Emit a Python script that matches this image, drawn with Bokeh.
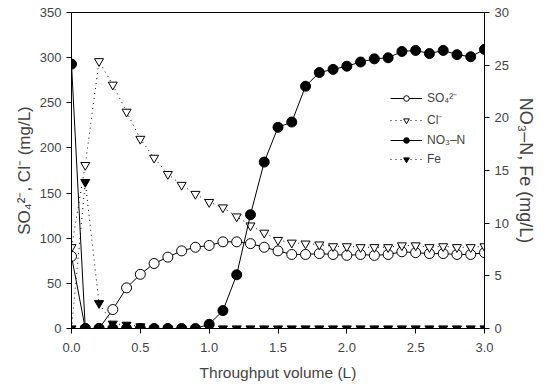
from bokeh.plotting import figure
from bokeh.models import Range1d, LinearAxis, Legend, LegendItem, FixedTicker, NumeralTickFormatter
from bokeh.embed import file_html
from bokeh.resources import INLINE

volume = [0.0, 0.1, 0.2, 0.3, 0.4, 0.5, 0.6, 0.7, 0.8, 0.9, 1.0, 1.1, 1.2, 1.3, 1.4, 1.5,
          1.6, 1.7, 1.8, 1.9, 2.0, 2.1, 2.2, 2.3, 2.4, 2.5, 2.6, 2.7, 2.8, 2.9, 3.0]
so4 = [80, 0, 0, 21, 45, 60, 72, 79, 86, 90, 92, 96, 96, 94, 90, 86,
       82, 82, 83, 82, 81, 82, 81, 82, 85, 84, 83, 83, 82, 82, 84]
cl = [90, 181, 296, 270, 240, 210, 189, 171, 159, 149, 140, 134, 124, 114, 106, 98,
      95, 94, 93, 91, 91, 90, 90, 90, 92, 92, 90, 91, 90, 90, 91]
no3n = [25.1, 0, 0, 0, 0, 0, 0, 0, 0, 0, 0.4, 1.7, 5.1, 10.8, 15.8, 19.1,
        19.6, 23.0, 24.3, 24.6, 24.9, 25.3, 25.6, 25.7, 26.3, 26.4, 26.1, 26.4, 26.0, 25.8, 26.5]
fe = [0, 13.9, 2.4, 0.45, 0.35, 0.2, 0, 0, 0, 0, 0, 0, 0, 0, 0, 0,
      0, 0, 0, 0, 0, 0, 0, 0, 0, 0, 0, 0, 0, 0, 0]

x_ticks = [0.0, 0.5, 1.0, 1.5, 2.0, 2.5, 3.0]
left_ticks = [0, 50, 100, 150, 200, 250, 300, 350]
right_ticks = [0, 5, 10, 15, 20, 25, 30]

FONT = "Liberation Sans"

p = figure(frame_width=413, frame_height=316, output_backend="svg", toolbar_location=None,
           x_range=Range1d(0, 3.0), y_range=Range1d(0, 350),
           min_border_left=71, min_border_right=46, min_border_top=12, min_border_bottom=40)
p.extra_y_ranges = {"right": Range1d(0, 30)}
p.grid.visible = False
p.outline_line_color = "black"
p.outline_line_width = 1
p.background_fill_color = "white"
p.border_fill_color = "white"

# series
r1 = p.line(volume, so4, line_color="black", line_width=1)
r2 = p.scatter(volume, so4, marker="circle", size=10, fill_color="white", line_color="black")
r3 = p.line(volume, cl, line_color="black", line_width=1, line_dash="1 4")
r4 = p.scatter(volume, cl, marker="inverted_triangle", size=9, fill_color="white", line_color="black")
r5 = p.line(volume, no3n, line_color="black", line_width=1, y_range_name="right")
r6 = p.scatter(volume, no3n, marker="circle", size=10, fill_color="black", line_color="black", y_range_name="right")
r7 = p.line(volume, fe, line_color="black", line_width=1, line_dash="1 4", y_range_name="right")
r8 = p.scatter(volume, fe, marker="inverted_triangle", size=9, fill_color="black", line_color="black", y_range_name="right")

right_axis = LinearAxis(y_range_name="right")
p.add_layout(right_axis, "right")

def style(ax, ticks, label, size):
    ax.ticker = FixedTicker(ticks=ticks)
    ax.axis_label = label
    ax.axis_label_text_font = FONT
    ax.axis_label_text_font_style = "normal"
    ax.axis_label_text_font_size = size
    ax.major_label_text_font = FONT
    ax.major_label_text_font_size = "13px"
    ax.major_tick_in = 0
    ax.major_tick_out = 5
    ax.minor_tick_in = 0
    ax.minor_tick_out = 0
    ax.axis_line_color = "black"

style(p.xaxis[0], x_ticks, "Throughput volume (L)", "15.5px")
p.xaxis[0].formatter = NumeralTickFormatter(format="0.0")
p.xaxis[0].axis_label_standoff = 9
p.xaxis[0].major_label_standoff = 9
style(p.yaxis[0], left_ticks, "SO\u2084\u00b2\u207b, Cl\u207b (mg/L)", "17px")
p.yaxis[0].axis_label_standoff = 3
style(right_axis, right_ticks, "NO\u2083\u2013N, Fe (mg/L)", "18px")
right_axis.axis_label_standoff = 4

legend = Legend(items=[
    LegendItem(label="SO\u2084\u00b2\u207b", renderers=[r1, r2]),
    LegendItem(label="Cl\u207b", renderers=[r3, r4]),
    LegendItem(label="NO\u2083\u2013N", renderers=[r5, r6]),
    LegendItem(label="Fe", renderers=[r7, r8]),
], location=(319, 162))
legend.border_line_color = None
legend.background_fill_alpha = 0
legend.label_text_font = FONT
legend.label_text_font_size = "12px"
legend.glyph_width = 32
legend.glyph_height = 14
legend.label_height = 14
legend.spacing = 5
legend.padding = 4
legend.margin = 0
p.add_layout(legend, "center")

open("out.html", "w").write(file_html(p, INLINE))
